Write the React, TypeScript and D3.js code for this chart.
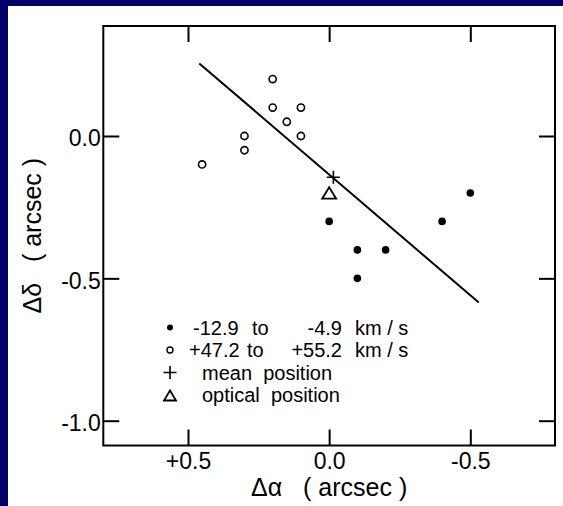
import React, { useEffect, useRef } from "react";
import * as d3 from "d3";

const WIDTH = 563;
const HEIGHT = 506;

// -12.9 to -4.9 km/s component (filled dots)
const lowVelRA = [0.0, -0.1, -0.1, -0.2, -0.4, -0.5];
const lowVelDec = [-0.3, -0.4, -0.5, -0.4, -0.3, -0.2];

// +47.2 to +55.2 km/s component (open circles)
const highVelRA = [0.2, 0.2, 0.15, 0.1, 0.1, 0.3, 0.3, 0.45];
const highVelDec = [0.2, 0.1, 0.05, 0.1, 0.0, 0.0, -0.05, -0.1];

// mean position (+) and optical position (triangle)
const meanPos = [-0.015, -0.145];
const opticalPos = [0.0, -0.2];

// fitted line end points
const lineRA = [0.46, -0.53];
const lineDec = [0.255, -0.585];

const xTicks = [0.5, 0.0, -0.5];
const xTickLabels = ["+0.5", "0.0", "-0.5"];
const yTicks = [0.0, -0.5, -1.0];
const yTickLabels = ["0.0", "-0.5", "-1.0"];

const legendRow1 = ["-12.9", "to", "-4.9", "km / s"];
const legendRow2 = ["+47.2", "to", "+55.2", "km / s"];
const legendRow3 = "mean  position";
const legendRow4 = "optical  position";

const xTitle = "\u0394\u03b1   ( arcsec )";
const yTitle = "\u0394\u03b4   ( arcsec )";

const FONT = "'Liberation Sans', Arial, sans-serif";

function Chart() {
  const ref = useRef<SVGSVGElement>(null);

  useEffect(() => {
    const svg = d3.select(ref.current);
    svg.selectAll("*").remove();

    // blue frame on left and top, white page
    svg.append("rect").attr("width", WIDTH).attr("height", HEIGHT).attr("fill", "#000068");
    svg.append("rect").attr("x", 8).attr("y", 6).attr("width", WIDTH - 8).attr("height", HEIGHT - 6).attr("fill", "#ffffff");

    const plot = { left: 103.3, right: 555, top: 26, bottom: 445.5 };

    const x = d3.scaleLinear().domain([0.8, -0.8]).range([plot.left, plot.right]);
    const y = d3.scaleLinear().domain([0.0, -1.0]).range([136, 420.7]);

    const g = svg.append("g").style("font-family", FONT);

    // ticks on all four sides, pointing inward
    const tick = 16;
    const styleAxis = (sel: any) => {
      sel.select(".domain").remove();
      sel.selectAll("line").attr("stroke", "#000").attr("stroke-width", 2);
    };

    g.append("g")
      .attr("transform", `translate(0,${plot.bottom})`)
      .call(d3.axisBottom(x).tickValues(xTicks).tickSize(-tick).tickFormat((d, i) => xTickLabels[i]))
      .call(styleAxis)
      .call((a: any) => a.selectAll("text")
        .attr("y", 23).attr("dy", 0)
        .style("font-size", "23px").style("font-family", FONT).attr("fill", "#000"));

    g.append("g")
      .attr("transform", `translate(0,${plot.top})`)
      .call(d3.axisTop(x).tickValues(xTicks).tickSize(-tick).tickFormat(() => ""))
      .call(styleAxis);

    g.append("g")
      .attr("transform", `translate(${plot.left},0)`)
      .call(d3.axisLeft(y).tickValues(yTicks).tickSize(-tick).tickFormat((d, i) => yTickLabels[i]))
      .call(styleAxis)
      .call((a: any) => a.selectAll("text")
        .attr("x", -2.5).attr("dy", "0.42em")
        .style("font-size", "23px").style("font-family", FONT).attr("fill", "#000"));

    g.append("g")
      .attr("transform", `translate(${plot.right},0)`)
      .call(d3.axisRight(y).tickValues(yTicks).tickSize(-tick).tickFormat(() => ""))
      .call(styleAxis);

    // frame
    g.append("rect")
      .attr("x", plot.left).attr("y", plot.top)
      .attr("width", plot.right - plot.left).attr("height", plot.bottom - plot.top)
      .attr("fill", "none").attr("stroke", "#000").attr("stroke-width", 2);

    // axis titles
    g.append("text")
      .attr("x", (plot.left + plot.right) / 2).attr("y", 496)
      .attr("text-anchor", "middle")
      .style("font-size", "25px").style("white-space", "pre")
      .text(xTitle);

    g.append("text")
      .attr("transform", `translate(41,${(plot.top + plot.bottom) / 2}) rotate(-90)`)
      .attr("text-anchor", "middle")
      .style("font-size", "25px").style("white-space", "pre")
      .text(yTitle);

    // fitted line
    g.append("path")
      .datum(d3.zip(lineRA, lineDec))
      .attr("d", d3.line<number[]>().x(d => x(d[0])).y(d => y(d[1])))
      .attr("fill", "none").attr("stroke", "#000").attr("stroke-width", 2);

    // open circles
    g.selectAll("circle.high")
      .data(d3.zip(highVelRA, highVelDec))
      .enter().append("circle")
      .attr("class", "high")
      .attr("cx", d => x(d[0])).attr("cy", d => y(d[1]))
      .attr("r", 3.6)
      .attr("fill", "#fff").attr("stroke", "#000").attr("stroke-width", 1.6);

    // filled dots
    g.selectAll("circle.low")
      .data(d3.zip(lowVelRA, lowVelDec))
      .enter().append("circle")
      .attr("class", "low")
      .attr("cx", d => x(d[0])).attr("cy", d => y(d[1]))
      .attr("r", 3.8)
      .attr("fill", "#000");

    const plus = (px: number, py: number, s: number) =>
      g.append("path")
        .attr("d", `M${px - s},${py}H${px + s}M${px},${py - s}V${py + s}`)
        .attr("stroke", "#000").attr("stroke-width", 1.6).attr("fill", "none");

    const triangle = (px: number, py: number, w: number, h: number) =>
      g.append("path")
        .attr("d", `M${px},${py - h / 2}L${px + w / 2},${py + h / 2}L${px - w / 2},${py + h / 2}Z`)
        .attr("stroke", "#000").attr("stroke-width", 1.8).attr("fill", "none");

    plus(x(meanPos[0]), y(meanPos[1]), 6.5);
    triangle(x(opticalPos[0]), y(opticalPos[1]), 14, 11.5);

    // legend
    const legend = g.append("g").style("font-size", "20px");
    const rowY = [334.5, 357, 379.5, 402];
    const symX = 170;

    legend.append("circle").attr("cx", symX).attr("cy", rowY[0] - 7).attr("r", 3).attr("fill", "#000");
    legend.append("circle").attr("cx", symX).attr("cy", rowY[1] - 7).attr("r", 3)
      .attr("fill", "none").attr("stroke", "#000").attr("stroke-width", 1.4);
    plus(symX, rowY[2] - 7, 6.5);
    triangle(symX, rowY[3] - 6.5, 12, 10);

    const cols1 = [
      { x: 193, anchor: "start" }, { x: 252, anchor: "start" },
      { x: 342, anchor: "end" }, { x: 355, anchor: "start" },
    ];
    const cols2 = [
      { x: 189, anchor: "start" }, { x: 247, anchor: "start" },
      { x: 342, anchor: "end" }, { x: 355, anchor: "start" },
    ];
    legendRow1.forEach((t, i) => {
      legend.append("text").attr("x", cols1[i].x).attr("y", rowY[0])
        .attr("text-anchor", cols1[i].anchor).text(t);
    });
    legendRow2.forEach((t, i) => {
      legend.append("text").attr("x", cols2[i].x).attr("y", rowY[1])
        .attr("text-anchor", cols2[i].anchor).text(t);
    });
    legend.append("text").attr("x", 202).attr("y", rowY[2]).style("white-space", "pre").text(legendRow3);
    legend.append("text").attr("x", 202).attr("y", rowY[3]).style("white-space", "pre").text(legendRow4);
  }, []);

  return (
    <svg
      ref={ref}
      width={WIDTH}
      height={HEIGHT}
      style={{ position: "fixed", left: 0, top: 0, display: "block" }}
    />
  );
}

export default function App() {
  return <Chart />;
}
